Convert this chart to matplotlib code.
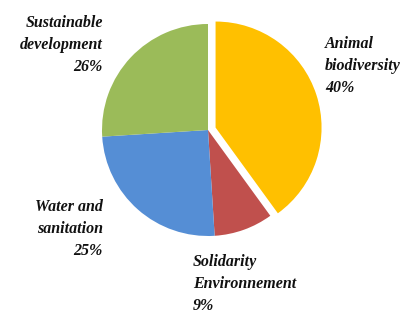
import matplotlib.pyplot as plt

labels = ['Animal\nbiodiversity\n40%', 'Solidarity\nEnvironnement\n9%',
          'Water and\nsanitation\n25%', 'Sustainable\ndevelopment\n26%']
shares = [40, 9, 25, 26]
colors = ['#FFC000', '#C0504D', '#558ED5', '#9BBB59']
explode = [0.075, 0, 0, 0]

W, H = 415, 314
fig = plt.figure(figsize=(W / 100, H / 100), dpi=100)

# pie centre (208,130) px from top-left, radius ~105 px
cx, cy, r = 208, 130, 106
m = 1.25
ax = fig.add_axes([(cx - m * r) / W, (H - cy - m * r) / H, 2 * m * r / W, 2 * m * r / H])
ax.pie(shares, colors=colors, explode=explode, startangle=90, counterclock=False,
       radius=1, wedgeprops=dict(linewidth=0))
ax.set_xlim(-m, m)
ax.set_ylim(-m, m)
ax.set_aspect('equal')
ax.axis('off')

font = dict(family='Liberation Serif', weight='bold', style='italic', fontsize=11.5,
            linespacing=1.5, color='#111111')
# label anchors in pixels (x, y of first line top)
pos = [(325, 36, 'left'), (193, 254, 'left'), (103, 199, 'right'), (103, 15, 'right')]
for lab, (x, y, ha) in zip(labels, pos):
    fig.text(x / W, 1 - y / H, lab, ha=ha, va='top', multialignment=ha, **font)

fig.savefig('out.png', dpi=100)
